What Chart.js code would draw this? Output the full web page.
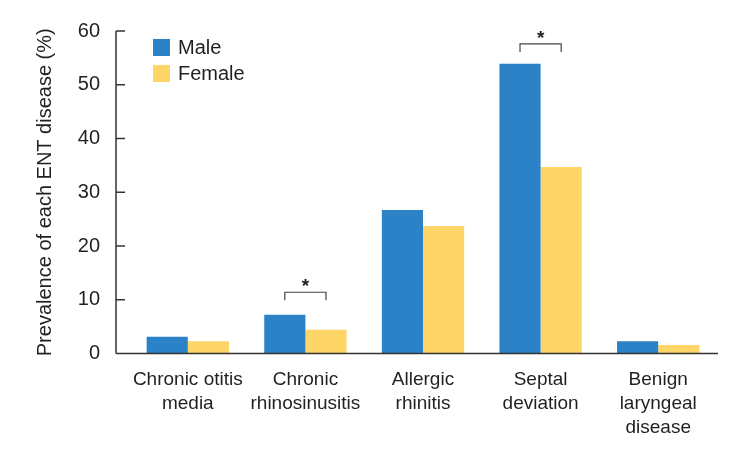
<!DOCTYPE html>
<html>
<head>
<meta charset="utf-8">
<script src="https://cdn.jsdelivr.net/npm/chart.js@4"></script>
<style>
  html, body { margin: 0; padding: 0; background: #fff; }
  #wrap { width: 735px; height: 459px; }
</style>
</head>
<body>
<div id="wrap"><canvas id="myChart" width="735" height="459"></canvas></div>
<script>
const categories = [
  ['Chronic otitis', 'media'],
  ['Chronic', 'rhinosinusitis'],
  ['Allergic', 'rhinitis'],
  ['Septal', 'deviation'],
  ['Benign', 'laryngeal', 'disease']
];
const maleValues = [3.1, 7.2, 26.7, 53.9, 2.3];
const femaleValues = [2.3, 4.4, 23.7, 34.7, 1.6];
// bracket heights (%) for significant differences, null = none
const significance = [null, 11.4, null, 57.6, null];
const yTicks = [0, 10, 20, 30, 40, 50, 60];

const textColor = '#231f20';
const font = 'Liberation Sans, Arial, Helvetica, sans-serif';

const extras = {
  id: 'extras',
  afterDraw(chart) {
    const ctx = chart.ctx;
    const area = chart.chartArea;
    const y = chart.scales.y;
    const axisX = area.left - 13;
    ctx.save();
    ctx.strokeStyle = '#333';
    ctx.lineWidth = 1.5;
    // y axis line + inward ticks
    ctx.beginPath();
    ctx.moveTo(axisX, y.getPixelForValue(60));
    ctx.lineTo(axisX, area.bottom);
    yTicks.forEach(t => {
      const py = y.getPixelForValue(t);
      ctx.moveTo(axisX, py);
      ctx.lineTo(axisX + 9, py);
    });
    // x axis line
    ctx.moveTo(axisX, area.bottom);
    ctx.lineTo(area.right + 1, area.bottom);
    ctx.stroke();

    // significance brackets
    const m0 = chart.getDatasetMeta(0), m1 = chart.getDatasetMeta(1);
    ctx.lineWidth = 1.2;
    ctx.strokeStyle = '#444';
    significance.forEach((s, i) => {
      if (s == null) return;
      const x1 = m0.data[i].x, x2 = m1.data[i].x;
      const top = y.getPixelForValue(s);
      ctx.beginPath();
      ctx.moveTo(x1, top + 8);
      ctx.lineTo(x1, top);
      ctx.lineTo(x2, top);
      ctx.lineTo(x2, top + 8);
      ctx.stroke();
      ctx.fillStyle = textColor;
      ctx.font = 'bold 19px ' + font;
      ctx.textAlign = 'center';
      ctx.textBaseline = 'middle';
      ctx.fillText('*', (x1 + x2) / 2, top - 5);
    });

    // legend
    const lx = area.left + 24, ly = area.top + 8;
    chart.data.datasets.forEach((ds, i) => {
      ctx.fillStyle = ds.backgroundColor;
      ctx.fillRect(lx, ly + i * 26, 17, 17);
      ctx.fillStyle = textColor;
      ctx.font = '20px ' + font;
      ctx.textAlign = 'left';
      ctx.textBaseline = 'middle';
      ctx.fillText(ds.label, lx + 25, ly + i * 26 + 9);
    });
    ctx.restore();
  }
};

new Chart(document.getElementById('myChart'), {
  type: 'bar',
  data: {
    labels: categories,
    datasets: [
      { label: 'Male', data: maleValues, backgroundColor: '#2b82c7' },
      { label: 'Female', data: femaleValues, backgroundColor: '#fed567' }
    ]
  },
  options: {
    responsive: false,
    animation: false,
    layout: { padding: { left: 10, right: 18, top: 31, bottom: 0 } },
    datasets: { bar: { categoryPercentage: 0.7, barPercentage: 1.0 } },
    plugins: { legend: { display: false }, tooltip: { enabled: false } },
    scales: {
      x: {
        afterFit(scale) { scale.height = 105.5; scale.paddingLeft = 0; scale.paddingRight = 0; },
        grid: { display: false, drawTicks: false },
        border: { display: false },
        ticks: {
          color: textColor, padding: 14,
          font: { family: font, size: 19, lineHeight: 1.26 },
          maxRotation: 0, autoSkip: false
        }
      },
      y: {
        min: 0, max: 60,
        afterFit(scale) { scale.width = 119; scale.paddingTop = 0; scale.paddingBottom = 0; },
        grid: { display: false, drawTicks: false },
        border: { display: false },
        ticks: {
          stepSize: 10, color: textColor, padding: 29,
          font: { family: font, size: 20 }
        },
        title: {
          display: true,
          text: 'Prevalence of each ENT disease (%)',
          color: textColor,
          font: { family: font, size: 20, lineHeight: 1.2 },
          padding: { top: 23, bottom: 21 }
        }
      }
    }
  },
  plugins: [extras]
});
</script>
</body>
</html>
